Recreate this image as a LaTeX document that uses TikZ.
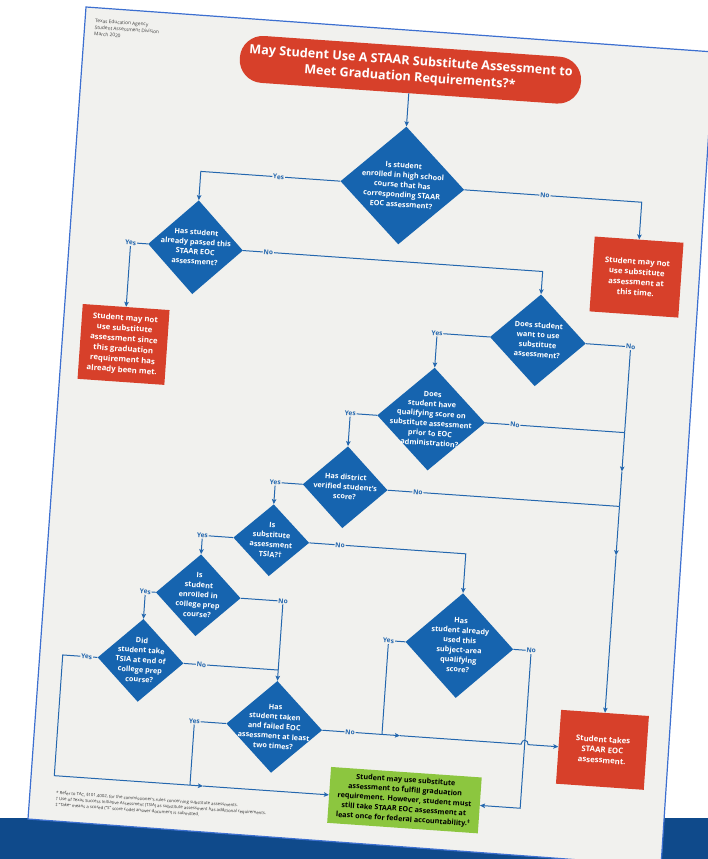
\documentclass[tikz,border=0pt]{standalone}
\usepackage{fontspec}
\setmainfont{Open Sans}
\usetikzlibrary{shapes.geometric,arrows.meta}

\definecolor{pagegrey}{HTML}{F1F1EE}
\definecolor{edgeblue}{HTML}{3C6FD0}
\definecolor{bandblue}{HTML}{0F4A8B}
\definecolor{askblue}{HTML}{1664AF}
\definecolor{lineblue}{HTML}{2467AE}
\definecolor{stopred}{HTML}{D7402A}
\definecolor{okgreen}{HTML}{8CC63F}

% centred text that does not grow the diamond
\newcommand{\asktext}[1]{\makebox[0pt]{\smash{\raisebox{-2pt}{\begin{tabular}{@{}c@{}}#1\end{tabular}}}}}

\begin{document}
\begin{tikzpicture}[x=1pt,y=-1pt,
  ask/.style={diamond, fill=askblue, inner sep=0pt, text=white,
    font=\bfseries\fontsize{7.3}{9.8}\selectfont},
  stop/.style={rectangle, fill=stopred, inner sep=0pt, text=white, align=center,
    font=\bfseries\fontsize{7.8}{10.4}\selectfont},
  link/.style={draw=lineblue, line width=1pt},
  flow/.style={link, -{Stealth[length=5pt,width=4.5pt,inset=1pt]}},
  tag/.style={fill=pagegrey, text=lineblue, inner sep=0.8pt,
    font=\bfseries\fontsize{6.6}{8}\selectfont}]

\useasboundingbox (0,0) rectangle (708,859);
\clip (0,0) rectangle (708,859);

% Background and the sheet
\fill[white] (0,0) rectangle (708,859);
\fill[bandblue] (0,818) rectangle (708,859);
\filldraw[fill=pagegrey, draw=edgeblue, line width=1.2pt]
  (86,7) -- (714,52) -- (661,866) -- (28,819) -- cycle;

\begin{scope}[transform canvas={shift={(86,7)}, rotate=-4}]

% Header and title
\node[anchor=north west, align=left, inner sep=0pt, text=black!75,
  font=\fontsize{4.8}{6.6}\selectfont] (tea) at (10,11)
  {Texas Education Agency\\Student Assessment Division\\March 2020};
\node[fill=stopred, rounded corners=23pt, minimum width=342, minimum height=47,
  inner sep=0pt, text=white, align=center,
  font=\bfseries\fontsize{12.6}{16.4}\selectfont] (title) at (328,40)
  {May Student Use A STAAR Substitute Assessment to\\Meet Graduation Requirements?*};

% Questions
\node[ask, minimum width=124, minimum height=118] (enrolled) at (328,156)
  {\asktext{Is student\\enrolled in high school\\course that has\\corresponding STAAR\\EOC assessment?}};
\node[ask, minimum width=95, minimum height=94] (passed) at (126,232)
  {\asktext{Has student\\already passed this\\STAAR EOC\\assessment?}};
\node[ask, minimum width=96, minimum height=92] (wantsub) at (474,301)
  {\asktext{Does student\\want to use\\substitute\\assessment?}};
\node[ask, minimum width=108, minimum height=103] (qualscore) at (373,387)
  {\asktext{Does\\student have\\qualifying score on\\substitute assessment\\prior to EOC\\administration?}};
\node[ask, minimum width=85, minimum height=82] (verified) at (292,461)
  {\asktext{Has district\\verified student's\\score?}};
\node[ask, minimum width=76, minimum height=72] (tsia) at (222,519)
  {\asktext{Is\\substitute\\assessment\\TSIA?†}};
\node[ask, minimum width=108, minimum height=105] (usedscore) at (417,611)
  {\asktext{Has\\student already\\used this\\subject-area\\qualifying\\score?}};
\node[ask, minimum width=85, minimum height=82] (prepcourse) at (153,579)
  {\asktext{Is\\student\\enrolled in\\college prep\\course?}};
\node[ask, minimum width=86, minimum height=83] (tooktsia) at (100,648)
  {\asktext{Did\\student take\\TSIA at end of\\college prep\\course?}};
\node[ask, minimum width=96, minimum height=92] (failedtwice) at (238,705)
  {\asktext{Has\\student taken\\and failed EOC\\assessment at least\\two times?}};

% Outcomes
\node[stop, minimum width=89, minimum height=75] (notnow) at (568,231)
  {Student may not\\use substitute\\assessment at\\this time.};
\node[stop, minimum width=87, minimum height=75] (alreadymet) at (61,334)
  {Student may not\\use substitute\\assessment since\\this graduation\\requirement has\\already been met.};
\node[stop, minimum width=88, minimum height=74] (takeeoc) at (567,705)
  {Student takes\\STAAR EOC\\assessment.};
\node[fill=okgreen, minimum width=151, minimum height=56, inner sep=0pt, align=center,
  font=\bfseries\fontsize{7.2}{9.8}\selectfont] (maysub) at (373,769)
  {Student may use substitute\\assessment to fulfill graduation\\requirement. However, student must\\still take STAAR EOC assessment at\\least once for federal accountability.\textsuperscript{‡}};

% Footnotes
\node[anchor=north west, align=left, inner sep=0pt, text=black!80,
  font=\fontsize{4.3}{5.9}\selectfont] (notes) at (25,784)
  {* Refer to TAC, §101.4002, for the commissioner’s rules concerning substitute assessments.\\
   † Use of Texas Success Initiative Assessment (TSIA) as substitute assessment has additional requirements.\\
   ‡ “Take” means a scored (“S” score code) answer document is submitted.};

% Joins and bends
\coordinate (j4) at (qualscore.east -| takeeoc.north);
\coordinate (j5) at (verified.east -| takeeoc.north);
\coordinate (a1) at (567,426);
\coordinate (a2) at (567,510);
\coordinate (j9) at (tooktsia.east -| failedtwice.north);
\coordinate (k1) at (22,648);
\coordinate (j10) at (158,769);
\coordinate (a3) at (171,769);
\coordinate (j7) at (346,705);
\coordinate (a4) at (364,705);
\coordinate (h1) at (485.5,705);
\coordinate (h2) at (492.5,705);
\coordinate (k3) at (489,769);

% Draw connectors
\draw[flow] (title) -- (enrolled);
\draw[flow] (enrolled.west) -| (passed.north);
\draw[flow] (enrolled.east) -| (notnow.north);
\draw[flow] (passed.west) -| (alreadymet.north);
\draw[flow] (passed.east) -| (wantsub.north);
\draw[flow] (wantsub.west) -| (qualscore.north);
\draw[link] (wantsub.east) -| (j4);
\draw[flow] (j4) -- (a1);
\draw[link] (a1) -- (j5);
\draw[flow] (j5) -- (a2);
\draw[flow] (a2) -- (takeeoc.north);
\draw[link] (qualscore.east) -- (j4);
\draw[flow] (qualscore.west) -| (verified.north);
\draw[link] (verified.east) -- (j5);
\draw[flow] (verified.west) -| (tsia.north);
\draw[flow] (tsia.east) -| (usedscore.north);
\draw[flow] (tsia.west) -| (prepcourse.north);
\draw[flow] (prepcourse.east) -| (failedtwice.north);
\draw[flow] (prepcourse.west) -| (tooktsia.north);
\draw[link] (tooktsia.east) -- (j9);
\draw[flow] (tooktsia.west) -- (k1) |- (a3);
\draw[flow] (a3) -- (maysub.west);
\draw[link] (failedtwice.west) -| (j10);
\draw[flow] (failedtwice.east) -- (a4);
\draw[flow] (a4) -- (h1) .. controls (485.5,699.5) and (492.5,699.5) .. (h2) -- (takeeoc.west);
\draw[link] (usedscore.west) -| (j7);
\draw[flow] (usedscore.east) -| (k3) -- (maysub.east);

% Yes / No tags
\node[tag] (y1) at (204,156) {Yes};
\node[tag] (n1) at (471,156) {No};
\node[tag] (y2) at (passed.west -| alreadymet.north) {Yes};
\node[tag] (n2) at (199,232) {No};
\node[tag] (y3) at (wantsub.west -| qualscore.north) {Yes};
\node[tag] (n3) at (wantsub.east -| takeeoc.north) {No};
\node[tag] (y4) at (qualscore.west -| verified.north) {Yes};
\node[tag] (n4) at (457,387) {No};
\node[tag] (y5) at (verified.west -| tsia.north) {Yes};
\node[tag] (n5) at (365,461) {No};
\node[tag] (y6) at (tsia.west -| prepcourse.north) {Yes};
\node[tag] (n6) at (291,519) {No};
\node[tag] (y8) at (prepcourse.west -| tooktsia.north) {Yes};
\node[tag] (n8) at (prepcourse.east -| failedtwice.north) {No};
\node[tag] (y9) at (46,648) {Yes};
\node[tag] (n9) at (161,648) {No};
\node[tag] (y10) at (failedtwice.west -| j10) {Yes};
\node[tag] (n10) at (314,705) {No};
\node[tag] (y7) at (usedscore.west -| j7) {Yes};
\node[tag] (n7) at (usedscore.east -| k3) {No};

\end{scope}
\end{tikzpicture}
\end{document}
